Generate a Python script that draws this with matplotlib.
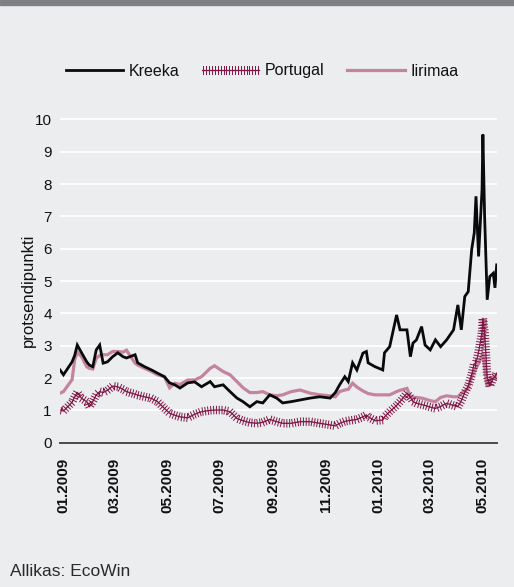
"""
Government bond spreads vs Germany: Greece, Portugal, Ireland (2009-2010).
"""
import pandas as pd
import matplotlib
matplotlib.use("Agg")
import matplotlib.pyplot as plt
import matplotlib.dates as mdates
import matplotlib.patheffects as pe
from matplotlib.patches import Rectangle

plt.rcParams["font.family"] = ["Liberation Sans", "DejaVu Sans"]

dates = [
    "2008-12-28", "2009-01-01", "2009-01-11", "2009-01-14", "2009-01-17",
    "2009-01-22", "2009-01-28", "2009-01-31", "2009-02-04", "2009-02-08",
    "2009-02-12", "2009-02-16", "2009-02-21", "2009-02-27", "2009-03-05",
    "2009-03-11", "2009-03-15", "2009-03-25", "2009-03-28", "2009-04-05",
    "2009-04-13", "2009-04-20", "2009-04-28", "2009-05-04", "2009-05-10",
    "2009-05-16", "2009-05-25", "2009-06-02", "2009-06-10", "2009-06-20",
    "2009-06-25", "2009-07-05", "2009-07-13", "2009-07-21", "2009-07-28",
    "2009-08-05", "2009-08-13", "2009-08-20", "2009-08-28", "2009-09-05",
    "2009-09-12", "2009-09-22", "2009-10-02", "2009-10-14", "2009-10-25",
    "2009-11-06", "2009-11-12", "2009-11-17", "2009-11-23", "2009-11-27",
    "2009-12-02", "2009-12-07", "2009-12-14", "2009-12-18", "2009-12-20",
    "2009-12-28", "2010-01-06", "2010-01-08", "2010-01-14", "2010-01-22",
    "2010-01-26", "2010-02-03", "2010-02-07", "2010-02-10", "2010-02-14",
    "2010-02-20", "2010-02-24", "2010-03-02", "2010-03-08", "2010-03-14",
    "2010-03-21", "2010-03-29", "2010-04-03", "2010-04-07", "2010-04-11",
    "2010-04-15", "2010-04-19", "2010-04-22", "2010-04-24", "2010-04-27",
    "2010-05-01", "2010-05-02", "2010-05-04", "2010-05-07", "2010-05-10",
    "2010-05-14", "2010-05-16", "2010-05-18",
]

kreeka = [
    2.25, 2.10, 2.50, 2.70, 3.02, 2.78, 2.50, 2.40, 2.35, 2.87,
    3.02, 2.46, 2.50, 2.66, 2.78, 2.66, 2.62, 2.72, 2.47, 2.35,
    2.25, 2.15, 2.04, 1.85, 1.79, 1.69, 1.85, 1.88, 1.73, 1.89,
    1.73, 1.79, 1.58, 1.38, 1.27, 1.11, 1.27, 1.23, 1.48, 1.38,
    1.23, 1.27, 1.32, 1.38, 1.42, 1.38, 1.55, 1.79, 2.04, 1.89,
    2.47, 2.25, 2.77, 2.82, 2.47, 2.35, 2.25, 2.78, 2.97, 3.95,
    3.49, 3.49, 2.66, 3.08, 3.18, 3.59, 3.02, 2.87, 3.18, 2.97,
    3.18, 3.49, 4.26, 3.49, 4.52, 4.67, 5.97, 6.49, 7.62, 5.76,
    7.82, 9.53, 7.00, 4.42, 5.14, 5.24, 4.79, 5.50,
]

portugal = [
    1.01, 0.98, 1.25, 1.42, 1.56, 1.37, 1.27, 1.11, 1.27, 1.48,
    1.58, 1.55, 1.62, 1.75, 1.73, 1.65, 1.58, 1.50, 1.47, 1.42,
    1.37, 1.27, 1.06, 0.91, 0.85, 0.80, 0.77, 0.88, 0.96, 1.00,
    1.01, 1.01, 0.96, 0.75, 0.68, 0.62, 0.60, 0.63, 0.72, 0.65,
    0.60, 0.60, 0.65, 0.65, 0.60, 0.55, 0.52, 0.60, 0.66, 0.68,
    0.70, 0.72, 0.80, 0.86, 0.80, 0.68, 0.70, 0.80, 0.96, 1.15,
    1.27, 1.53, 1.40, 1.27, 1.22, 1.18, 1.15, 1.10, 1.06, 1.12,
    1.22, 1.15, 1.11, 1.30, 1.55, 1.75, 2.10, 2.45, 2.45, 2.80,
    3.40, 3.85, 3.39, 2.04, 1.75, 1.99, 2.04, 2.15,
]

iirimaa = [
    1.53, 1.58, 1.95, 2.56, 2.80, 2.66, 2.35, 2.30, 2.28, 2.61,
    2.70, 2.72, 2.72, 2.82, 2.82, 2.80, 2.86, 2.46, 2.40, 2.30,
    2.20, 2.10, 2.04, 1.70, 1.84, 1.80, 1.94, 1.94, 2.04, 2.30,
    2.38, 2.20, 2.10, 1.89, 1.70, 1.55, 1.55, 1.58, 1.48, 1.45,
    1.48, 1.58, 1.63, 1.53, 1.48, 1.45, 1.42, 1.58, 1.63, 1.65,
    1.84, 1.72, 1.60, 1.55, 1.52, 1.48, 1.48, 1.48, 1.48, 1.58,
    1.62, 1.68, 1.42, 1.40, 1.40, 1.38, 1.35, 1.30, 1.27, 1.40,
    1.45, 1.42, 1.42, 1.53, 1.60, 1.68, 2.04, 2.20, 2.30, 2.45,
    2.70, 2.77, 2.35, 1.73, 1.94, 2.04, 2.00, 2.10,
]

tick_dates = ["2009-01-01", "2009-03-01", "2009-05-01", "2009-07-01",
              "2009-09-01", "2009-11-01", "2010-01-01", "2010-03-01",
              "2010-05-01"]
y_ticks = list(range(0, 11))

BG = "#ecedef"
BLACK = "#0a0a0a"
MAROON = "#801444"
PINK = "#c4849f"

x = pd.to_datetime(dates)

fig = plt.figure(figsize=(5.14, 5.87), dpi=100, facecolor=BG)
ax = fig.add_axes([60 / 514, 1 - 442.7 / 587, (496.7 - 60) / 514, 0.5564])
ax.set_facecolor(BG)

# Grey band across the top of the panel
fig.patches.append(Rectangle((0, 1 - 5 / 587), 1, 5 / 587, transform=fig.transFigure,
                             color="#807f84", zorder=0))

ax.plot(x, iirimaa, color=PINK, linewidth=2.3, solid_joinstyle="miter",
        label="Iirimaa", zorder=3)
# Portugal is drawn as a hatched line: short ticks on both sides of a thin stroke
hatch = [pe.TickedStroke(spacing=2.0, angle=90, length=1.35, linewidth=0.7),
         pe.TickedStroke(spacing=2.0, angle=-90, length=1.35, linewidth=0.7),
         pe.Normal()]
ax.plot(x, portugal, color=MAROON, linewidth=0.9, path_effects=hatch,
        label="Portugal", zorder=4)
ax.plot(x, kreeka, color=BLACK, linewidth=2.0, solid_joinstyle="miter",
        label="Kreeka", zorder=5)

ax.set_xlim(x[0], x[-1])
ax.set_ylim(0, 10.1)
ax.set_yticks(y_ticks)
ax.set_xticks(pd.to_datetime(tick_dates))
ax.xaxis.set_major_formatter(mdates.DateFormatter("%m.%Y"))
ax.tick_params(axis="y", length=0, pad=6, labelsize=11, labelcolor="#111111")
ax.tick_params(axis="x", length=0, pad=11, labelsize=11, labelcolor="#111111",
               labelrotation=90)
for lab in ax.get_xticklabels():
    lab.set_fontweight("bold")

for spine in ax.spines.values():
    spine.set_visible(False)
ax.grid(axis="y", color="white", linewidth=1.3)
ax.axhline(0, color="#4a4a4a", linewidth=1.4, clip_on=False, zorder=6)
ax.set_axisbelow(True)

fig.text(28 / 514, 1 - 290 / 587, "protsendipunkti", rotation=90, ha="center",
         va="center", fontsize=12, color="#111111")

handles, labels = ax.get_legend_handles_labels()
order = [2, 1, 0]
fig.legend([handles[i] for i in order], [labels[i] for i in order], loc="center",
           bbox_to_anchor=(262 / 514, 1 - 71 / 587), ncol=3, frameon=False,
           fontsize=11.5, handlelength=3.6, handletextpad=0.35, columnspacing=1.4,
           labelcolor="#111111")

fig.text(10 / 514, 1 - 572 / 587, "Allikas: EcoWin", ha="left", va="center",
         fontsize=12.5, color="#2a2a2a")

fig.savefig("out.png", dpi=100, facecolor=BG)
